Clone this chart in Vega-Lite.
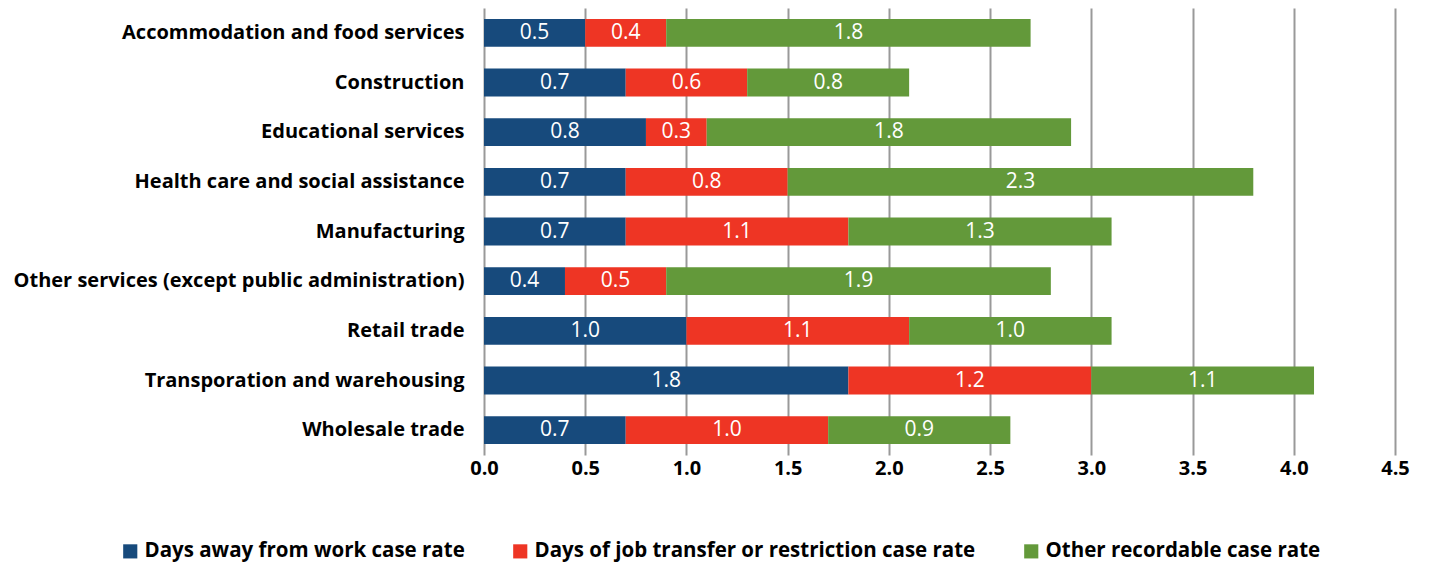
{
  "$schema": "https://vega.github.io/schema/vega-lite/v6.json",
  "autosize": {"type": "none"},
  "width": 911,
  "height": 447,
  "padding": {"left": 484, "top": 8, "right": 36, "bottom": 114},
  "background": "white",
  "config": {
    "view": {"stroke": null},
    "font": "Open Sans"
  },
  "data": {
    "values": [
      {"industry": "Accommodation and food services", "series": "Days away from work case rate", "value": 0.5},
      {"industry": "Accommodation and food services", "series": "Days of job transfer or restriction case rate", "value": 0.4},
      {"industry": "Accommodation and food services", "series": "Other recordable case rate", "value": 1.8},
      {"industry": "Construction", "series": "Days away from work case rate", "value": 0.7},
      {"industry": "Construction", "series": "Days of job transfer or restriction case rate", "value": 0.6},
      {"industry": "Construction", "series": "Other recordable case rate", "value": 0.8},
      {"industry": "Educational services", "series": "Days away from work case rate", "value": 0.8},
      {"industry": "Educational services", "series": "Days of job transfer or restriction case rate", "value": 0.3},
      {"industry": "Educational services", "series": "Other recordable case rate", "value": 1.8},
      {"industry": "Health care and social assistance", "series": "Days away from work case rate", "value": 0.7},
      {"industry": "Health care and social assistance", "series": "Days of job transfer or restriction case rate", "value": 0.8},
      {"industry": "Health care and social assistance", "series": "Other recordable case rate", "value": 2.3},
      {"industry": "Manufacturing", "series": "Days away from work case rate", "value": 0.7},
      {"industry": "Manufacturing", "series": "Days of job transfer or restriction case rate", "value": 1.1},
      {"industry": "Manufacturing", "series": "Other recordable case rate", "value": 1.3},
      {"industry": "Other services (except public administration)", "series": "Days away from work case rate", "value": 0.4},
      {"industry": "Other services (except public administration)", "series": "Days of job transfer or restriction case rate", "value": 0.5},
      {"industry": "Other services (except public administration)", "series": "Other recordable case rate", "value": 1.9},
      {"industry": "Retail trade", "series": "Days away from work case rate", "value": 1.0},
      {"industry": "Retail trade", "series": "Days of job transfer or restriction case rate", "value": 1.1},
      {"industry": "Retail trade", "series": "Other recordable case rate", "value": 1.0},
      {"industry": "Transporation and warehousing", "series": "Days away from work case rate", "value": 1.8},
      {"industry": "Transporation and warehousing", "series": "Days of job transfer or restriction case rate", "value": 1.2},
      {"industry": "Transporation and warehousing", "series": "Other recordable case rate", "value": 1.1},
      {"industry": "Wholesale trade", "series": "Days away from work case rate", "value": 0.7},
      {"industry": "Wholesale trade", "series": "Days of job transfer or restriction case rate", "value": 1.0},
      {"industry": "Wholesale trade", "series": "Other recordable case rate", "value": 0.9}
    ]
  },
  "transform": [
    {"stack": "value", "groupby": ["industry"], "sort": [{"field": "series", "order": "ascending"}], "as": ["x0", "x1"]},
    {"calculate": "(datum.x0 + datum.x1) / 2", "as": "mid"}
  ],
  "encoding": {
    "y": {
      "field": "industry",
      "type": "nominal",
      "sort": "ascending",
      "scale": {"paddingInner": 0.44, "paddingOuter": 0.22},
      "axis": {
        "title": null,
        "domain": false,
        "ticks": false,
        "labelFont": "Open Sans",
        "labelFontSize": 20,
        "labelFontWeight": "bold",
        "labelColor": "#000000",
        "labelPadding": 20,
        "labelLimit": 600
      }
    }
  },
  "layer": [
    {
      "mark": {"type": "bar", "stroke": null},
      "encoding": {
        "x": {
          "field": "x0",
          "type": "quantitative",
          "scale": {"domain": [0, 4.5], "nice": false},
          "axis": {
            "title": null,
            "values": [0, 0.5, 1, 1.5, 2, 2.5, 3, 3.5, 4, 4.5],
            "format": ".1f",
            "grid": true,
            "gridColor": "#999999",
            "gridWidth": 2,
            "gridOpacity": 1,
            "domain": false,
            "ticks": false,
            "labelFont": "Open Sans",
            "labelFontSize": 20,
            "labelFontWeight": "bold",
            "labelColor": "#000000",
            "labelPadding": 3,
            "labelFlush": false
          }
        },
        "x2": {"field": "x1"},
        "color": {
          "field": "series",
          "type": "nominal",
          "scale": {
            "domain": ["Days away from work case rate", "Days of job transfer or restriction case rate", "Other recordable case rate"],
            "range": ["#174a7c", "#ee3524", "#63993a"]
          },
          "legend": {
            "title": null,
            "orient": "none",
            "direction": "horizontal",
            "legendX": -364,
            "legendY": 533,
            "symbolType": "square",
            "symbolSize": 200,
            "symbolStrokeWidth": 0,
            "labelFont": "Open Sans",
            "labelFontSize": 20.5,
            "labelFontWeight": "bold",
            "labelColor": "#000000",
            "labelOffset": 4,
            "columnPadding": 45,
            "labelLimit": 600
          }
        }
      }
    },
    {
      "mark": {"type": "text", "color": "white", "fontSize": 21, "font": "Open Sans", "align": "center", "baseline": "middle"},
      "encoding": {
        "x": {"field": "mid", "type": "quantitative"},
        "text": {"field": "value", "type": "quantitative", "format": ".1f"}
      }
    }
  ]
}
